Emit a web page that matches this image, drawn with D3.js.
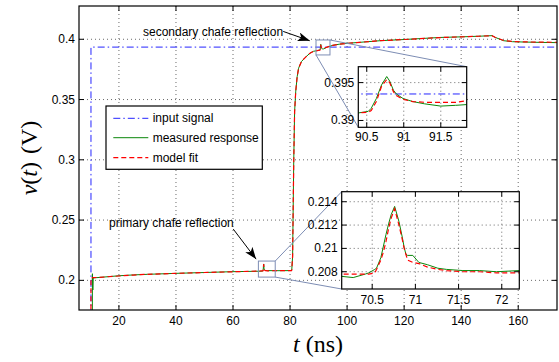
<!DOCTYPE html>
<html>
<head>
<meta charset="utf-8">
<script src="https://cdn.jsdelivr.net/npm/d3@7"></script>
<style>
  body { margin: 0; background: #fff; }
  text { font-family: "Liberation Sans", Arial, sans-serif; font-size: 12px; fill: #000; }
</style>
</head>
<body>
<svg id="chart" width="559" height="362"></svg>
<script>
// measured response and model fit, sampled on a shared time axis (ns)
const tNs = [6, 10.15, 10.2, 10.6, 10.7, 10.85, 11, 15, 20, 25, 30, 40, 50, 60,
  70.15, 70.28, 70.42, 70.46, 70.53, 70.55, 70.6, 70.63, 70.66, 70.69, 70.72, 70.76,
  70.81, 70.85, 70.87, 70.89, 70.91, 70.97, 71.04, 71.14, 71.26, 71.36, 71.55, 71.74,
  71.94, 72.2, 75, 80.5, 80.6, 80.9, 81.1, 81.3, 81.6, 82, 82.5, 83, 84, 85.3, 87,
  88.2, 89.5, 90.39, 90.52, 90.56, 90.63, 90.7, 90.77, 90.81, 90.86, 90.9, 90.99,
  91.12, 91.28, 91.5, 91.7, 91.85, 93, 95, 97.5, 100, 104.6, 111.6, 120, 132.6, 140,
  146, 150.8, 152, 154.9, 158, 162, 168, 174];
const vMeasured = [0, 0, 0, 0, 0.2055, 0.192, 0.202, 0.2028, 0.2038, 0.2045, 0.205,
  0.2058, 0.2065, 0.2072,
  0.2076, 0.2075, 0.2078, 0.2079, 0.2082, 0.2083, 0.2092, 0.2102, 0.2112, 0.2121,
  0.2129, 0.2136, 0.2123, 0.2109, 0.2101, 0.2095, 0.2094, 0.2094, 0.2088, 0.2086,
  0.2083, 0.2082, 0.2081, 0.2081, 0.208, 0.2081, 0.208, 0.2081, 0.2085, 0.22, 0.26,
  0.3, 0.34, 0.357, 0.369, 0.376, 0.3815, 0.3848, 0.3885, 0.39, 0.3906, 0.391,
  0.3912, 0.3916, 0.3929, 0.3947, 0.3958, 0.3952, 0.394, 0.3935, 0.3929, 0.3925,
  0.3922, 0.3919, 0.392, 0.3921, 0.3935, 0.395, 0.396, 0.3966, 0.3975, 0.3988,
  0.3998, 0.4015, 0.402, 0.4025, 0.403, 0.4015, 0.3988, 0.398, 0.3977, 0.3974, 0.3972];
const vFit = [0, 0, 0.202, 0.2021, 0.2022, 0.2022, 0.2022, 0.2028, 0.2036, 0.2044,
  0.205, 0.2058, 0.2065, 0.2071,
  0.2078, 0.2078, 0.2078, 0.2078, 0.2079, 0.2082, 0.209, 0.2097, 0.2106, 0.2117,
  0.2126, 0.2134, 0.212, 0.2107, 0.21, 0.2095, 0.209, 0.2088, 0.2087, 0.2084,
  0.2082, 0.2081, 0.208, 0.208, 0.2079, 0.2079, 0.208, 0.208, 0.2085, 0.22, 0.26,
  0.3, 0.34, 0.357, 0.369, 0.376, 0.3815, 0.3848, 0.3885, 0.39, 0.3906, 0.391,
  0.3911, 0.3913, 0.3925, 0.3945, 0.3954, 0.395, 0.3938, 0.3933, 0.3928, 0.3925,
  0.3924, 0.3924, 0.3924, 0.3926, 0.3935, 0.395, 0.396, 0.3966, 0.3975, 0.3988,
  0.3998, 0.4014, 0.402, 0.4025, 0.403, 0.4015, 0.399, 0.3982, 0.3978, 0.3976, 0.3975];

// input step
const tInput = [6, 10.2, 10.2, 174];
const vInput = [0, 0, 0.3935, 0.3935];

const xDomain = [6, 173.6];
const yDomain = [0.1754, 0.4276];
const xTicks = [20, 40, 60, 80, 100, 120, 140, 160];
const yTicks = [0.2, 0.25, 0.3, 0.35, 0.4];

// zoomed views
const highXDomain = [90.386, 91.85];
const highYDomain = [0.3891, 0.3971];
const highXTicks = [90.5, 91, 91.5];
const highYTicks = [0.39, 0.395];
const lowXDomain = [70.147, 72.203];
const lowYDomain = [0.20652, 0.21486];
const lowXTicks = [70.5, 71, 71.5, 72];
const lowYTicks = [0.208, 0.21, 0.212, 0.214];

// marked regions in the main plot [t0, t1, v0, v1]
const highRegion = [89.1, 94.0, 0.387, 0.3994];
const lowRegion = [68.9, 74.8, 0.2027, 0.216];

const legendLabels = ['input signal', 'measured response', 'model fit'];

const svg = d3.select('#chart');

const seriesStyle = [
  {t: tInput, v: vInput, color: '#2424ff', dash: '7,3,1.5,3', width: 1},
  {t: tNs, v: vMeasured, color: '#0a870a', dash: null, width: 1},
  {t: tNs, v: vFit, color: '#ff0000', dash: '5,3', width: 1.2}
];

const fmt = d => String(+d.toFixed(4));

function drawPanel(box, xDom, yDom, xT, yT, id, labelGap) {
  const x = d3.scaleLinear().domain(xDom).range([box.left, box.right]);
  const y = d3.scaleLinear().domain(yDom).range([box.bottom, box.top]);
  const g = svg.append('g');

  g.append('rect')
    .attr('x', box.left).attr('y', box.top)
    .attr('width', box.right - box.left).attr('height', box.bottom - box.top)
    .attr('fill', '#fff');

  g.append('clipPath').attr('id', id)
    .append('rect')
    .attr('x', box.left).attr('y', box.top)
    .attr('width', box.right - box.left).attr('height', box.bottom - box.top);

  // dotted grid
  g.append('g').selectAll('line').data(xT).enter().append('line')
    .attr('x1', d => x(d)).attr('x2', d => x(d))
    .attr('y1', box.top).attr('y2', box.bottom)
    .attr('stroke', '#444').attr('stroke-width', 0.8).attr('stroke-dasharray', '1,3');
  g.append('g').selectAll('line').data(yT).enter().append('line')
    .attr('y1', d => y(d)).attr('y2', d => y(d))
    .attr('x1', box.left).attr('x2', box.right)
    .attr('stroke', '#444').attr('stroke-width', 0.8).attr('stroke-dasharray', '1,3');

  const plot = g.append('g').attr('clip-path', `url(#${id})`);
  seriesStyle.forEach(s => {
    const pts = s.t.map((t, i) => [t, s.v[i]]);
    plot.append('path')
      .datum(pts)
      .attr('fill', 'none')
      .attr('stroke', s.color)
      .attr('stroke-width', s.width)
      .attr('stroke-dasharray', s.dash)
      .attr('d', d3.line().x(d => x(d[0])).y(d => y(d[1])));
  });

  // inward ticks on all four sides
  const tl = 5;
  const ticks = g.append('g').attr('stroke', '#000').attr('stroke-width', 1);
  xT.forEach(d => {
    ticks.append('line').attr('x1', x(d)).attr('x2', x(d)).attr('y1', box.bottom).attr('y2', box.bottom - tl);
    ticks.append('line').attr('x1', x(d)).attr('x2', x(d)).attr('y1', box.top).attr('y2', box.top + tl);
  });
  yT.forEach(d => {
    ticks.append('line').attr('y1', y(d)).attr('y2', y(d)).attr('x1', box.left).attr('x2', box.left + tl);
    ticks.append('line').attr('y1', y(d)).attr('y2', y(d)).attr('x1', box.right).attr('x2', box.right - tl);
  });

  g.append('rect')
    .attr('x', box.left).attr('y', box.top)
    .attr('width', box.right - box.left).attr('height', box.bottom - box.top)
    .attr('fill', 'none').attr('stroke', '#000').attr('stroke-width', 1.2);

  g.append('g').selectAll('text').data(xT).enter().append('text')
    .attr('x', d => x(d)).attr('y', box.bottom + labelGap + 4)
    .attr('text-anchor', 'middle')
    .text(fmt);
  g.append('g').selectAll('text').data(yT).enter().append('text')
    .attr('x', box.left - 4).attr('y', d => y(d) + 4)
    .attr('text-anchor', 'end')
    .text(fmt);

  return {x, y};
}

const mainBox = {left: 79, right: 557, top: 6, bottom: 310};
const m = drawPanel(mainBox, xDomain, yDomain, xTicks, yTicks, 'clipMain', 11);

// marked regions and connectors
const highBox = {left: 358.3, right: 466.7, top: 66.7, bottom: 127.3};
const lowBox = {left: 341.7, right: 519.3, top: 191.7, bottom: 289};
const zoomColor = '#7d8db4';

function regionRect(r) {
  svg.append('rect')
    .attr('x', m.x(r[0])).attr('y', m.y(r[3]))
    .attr('width', m.x(r[1]) - m.x(r[0])).attr('height', m.y(r[2]) - m.y(r[3]))
    .attr('fill', 'none').attr('stroke', zoomColor).attr('stroke-width', 1);
}
regionRect(highRegion);
regionRect(lowRegion);

const connectors = [
  [m.x(highRegion[1]), m.y(highRegion[3]), highBox.right, highBox.top],
  [m.x(highRegion[0]), m.y(highRegion[2]), highBox.left, highBox.bottom],
  [m.x(lowRegion[1]), m.y(lowRegion[3]), lowBox.left, lowBox.top],
  [m.x(lowRegion[1]), m.y(lowRegion[2]), lowBox.left, lowBox.bottom]
];
svg.append('g').selectAll('line').data(connectors).enter().append('line')
  .attr('x1', d => d[0]).attr('y1', d => d[1]).attr('x2', d => d[2]).attr('y2', d => d[3])
  .attr('stroke', zoomColor).attr('stroke-width', 1);

drawPanel(highBox, highXDomain, highYDomain, highXTicks, highYTicks, 'clipHigh', 10);
drawPanel(lowBox, lowXDomain, lowYDomain, lowXTicks, lowYTicks, 'clipLow', 11);

// legend
const lg = svg.append('g');
lg.append('rect').attr('x', 106).attr('y', 106).attr('width', 156.3).attr('height', 63.3)
  .attr('fill', '#fff').attr('stroke', '#000').attr('stroke-width', 1.2);
const rowY = [118.3, 137.7, 157.7];
legendLabels.forEach((label, i) => {
  const s = seriesStyle[i];
  lg.append('line').attr('x1', 113.3).attr('x2', 148.3).attr('y1', rowY[i]).attr('y2', rowY[i])
    .attr('stroke', s.color).attr('stroke-width', s.width).attr('stroke-dasharray', s.dash);
  lg.append('text').attr('x', 152.7).attr('y', rowY[i] + 4).text(label);
});

// annotations
const defs = svg.append('defs');
defs.append('marker').attr('id', 'arrow')
  .attr('markerUnits', 'userSpaceOnUse')
  .attr('markerWidth', 14).attr('markerHeight', 10)
  .attr('refX', 12).attr('refY', 4.5).attr('orient', 'auto')
  .append('path').attr('d', 'M0,0 L12,4.5 L0,9 L3,4.5 Z').attr('fill', '#000');

const notes = [
  {text: 'secondary chafe reflection', tx: 53, tv: 0.4058, from: [77.6, 0.4065], to: [86.9, 0.3988]},
  {text: 'primary chafe reflection', tx: 38.4, tv: 0.2478, from: [60.1, 0.2425], to: [68.1, 0.2176]}
];
notes.forEach(n => {
  svg.append('text').attr('x', m.x(n.tx)).attr('y', m.y(n.tv) + 4)
    .attr('text-anchor', 'middle').text(n.text);
  svg.append('line')
    .attr('x1', m.x(n.from[0])).attr('y1', m.y(n.from[1]))
    .attr('x2', m.x(n.to[0])).attr('y2', m.y(n.to[1]))
    .attr('stroke', '#000').attr('stroke-width', 1)
    .attr('marker-end', 'url(#arrow)');
});

// axis labels
const serif = '"Liberation Serif", "Times New Roman", serif';
const xl = svg.append('text').attr('x', 318).attr('y', 352)
  .attr('text-anchor', 'middle')
  .style('font-family', serif).style('font-size', '24px');
xl.append('tspan').style('font-style', 'italic').style('font-family', serif).style('font-size', '24px').text('t');
xl.append('tspan').attr('dx', 6).style('font-family', serif).style('font-size', '24px').text('(ns)');

const yl = svg.append('text')
  .attr('transform', 'translate(37,158) rotate(-90)')
  .attr('text-anchor', 'middle')
  .style('font-family', serif).style('font-size', '24px');
yl.append('tspan').style('font-style', 'italic').style('font-family', serif).style('font-size', '24px').text('v');
yl.append('tspan').style('font-family', serif).style('font-size', '24px').text('(');
yl.append('tspan').style('font-style', 'italic').style('font-family', serif).style('font-size', '24px').text('t');
yl.append('tspan').style('font-family', serif).style('font-size', '24px').text(')');
yl.append('tspan').attr('dx', 8).style('font-family', serif).style('font-size', '24px').text('(V)');
</script>
</body>
</html>
